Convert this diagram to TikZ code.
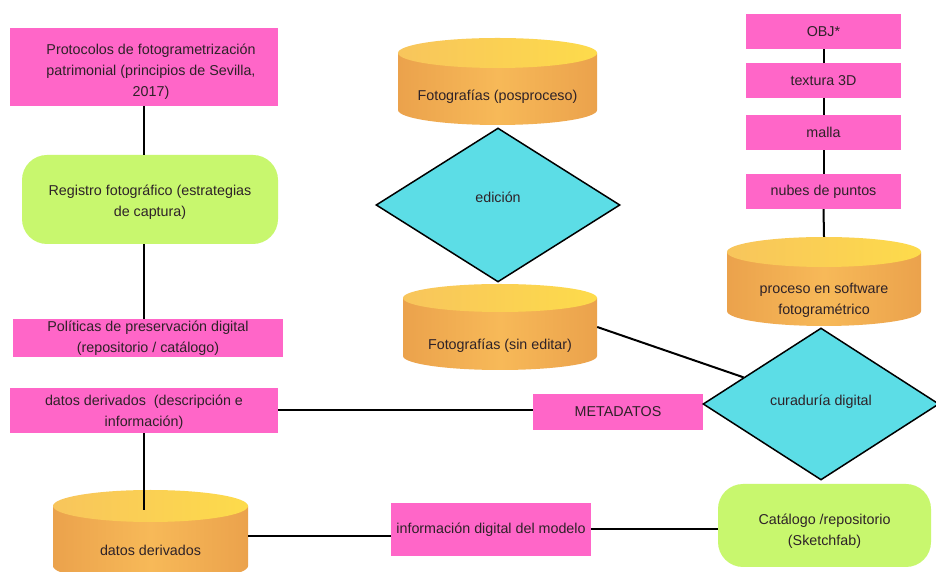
\documentclass[tikz,border=0pt]{standalone}
\usepackage{fontspec}
\setmainfont{Liberation Sans}
\usetikzlibrary{shapes.geometric}
\definecolor{pinkc}{HTML}{FF66C8}
\definecolor{limec}{HTML}{C8F76E}
\definecolor{cyanc}{HTML}{5CDDE6}
\definecolor{cylD}{HTML}{EBA24C}
\definecolor{cylL}{HTML}{F7B958}
\definecolor{topL}{HTML}{F8C55C}
\definecolor{topR}{HTML}{FDDB4B}
\definecolor{txtc}{HTML}{2E2228}
\tikzset{
  pbox/.style={fill=pinkc, inner sep=0pt, align=center},
  gbox/.style={fill=limec, rounded corners=25pt, inner sep=0pt, align=center},
  dia/.style={diamond, draw=black, line width=1.5pt, fill=cyanc, inner sep=0pt},
  conn/.style={line width=2pt, black},
  cylbody/.style={left color=cylD, right color=cylD, middle color=cylL},
  cyltop/.style={left color=topL, right color=topR},
  lbl/.style={align=center, inner sep=0pt}
}
\newcommand\dbcyl[8]{%
  \pgfmathsetmacro\cyT{572-#3}%
  \pgfmathsetmacro\cyB{572-#4}%
  \pgfmathsetmacro\cyM{(\cyT+\cyB)/2}%
  \shade[cylbody] (#2-#5,\cyT-#6) -- (#2-#5,\cyB+#6)
     arc[start angle=180,end angle=360,x radius=#5pt,y radius=#6pt]
     -- (#2+#5,\cyT-#6) -- cycle;
  \shade[cyltop] (#2,\cyT-#6) ellipse[x radius=#5pt,y radius=#6pt];
  \node[inner sep=0pt, minimum width=2*#5pt, minimum height=(#4-#3)*1pt] (#1) at (#2,\cyM) {};
  \node[lbl] at (#2,572-#7) {#8};
}
\begin{document}
\begin{tikzpicture}[x=1pt,y=1pt,font=\fontsize{14.3}{21}\selectfont,text=txtc]
\clip (0,0) rectangle (936,572);
\fill[white] (0,0) rectangle (936,572);

% left column
\node[pbox, minimum width=268pt, minimum height=78pt] (prot) at (144,505) {};
\node[lbl] at (151,500) {Protocolos de fotogrametrización\\patrimonial (principios de Sevilla,\\2017)};
\node[gbox, minimum width=256pt, minimum height=89pt] (reg) at (150,372.5) {};
\node[lbl] at (150,370) {Registro fotográfico (estrategias\\de captura)};
\node[pbox, minimum width=270pt, minimum height=38pt] (pol) at (148,234)
  {Políticas de preservación digital\\(repositorio / catálogo)};
\node[pbox, minimum width=268pt, minimum height=45pt] (dbox) at (144,161.5) {};
\node[lbl] at (144,160) {datos derivados\ \ (descripción e\\información)};
\dbcyl{dcyl}{150.5}{490}{582}{97.5}{16}{550}{datos derivados}
\coordinate (dcyltop) at (144,62);

% middle column
\dbcyl{pos}{497.5}{38}{125}{99.5}{15}{97}{Fotografías (posproceso)}
\node[dia, minimum width=244pt, minimum height=154pt] (edi) at (498,367) {};
\node[lbl] at (498,375) {edición};
\dbcyl{sin}{500}{284}{370}{97}{14}{346}{Fotografías (sin editar)}
\node[pbox, minimum width=170pt, minimum height=36pt] (meta) at (618,160) {METADATOS};
\node[pbox, minimum width=200pt, minimum height=53pt] (info) at (491,42.5)
  {información digital del modelo};

% right column
\node[pbox, minimum width=155pt, minimum height=35pt] (obj) at (823.5,540.5) {OBJ*};
\node[pbox, minimum width=155pt, minimum height=35pt] (tex) at (823.5,491.5) {textura 3D};
\node[pbox, minimum width=155pt, minimum height=35pt] (mal) at (823.5,439.5) {malla};
\node[pbox, minimum width=155pt, minimum height=35pt] (nub) at (823.5,380.5) {nubes de puntos};
\dbcyl{proc}{824}{237}{326}{97}{15}{300.5}{proceso en software\\fotogramétrico}
\node[dia, minimum width=236pt, minimum height=152pt] (cur) at (821,168) {};
\node[lbl] at (821,170) {curaduría digital};
\node[gbox, minimum width=213pt, minimum height=83pt] (cat) at (824.5,46.5) {};
\node[lbl] at (824.5,41) {Catálogo /repositorio\\(Sketchfab)};

% connectors
\draw[conn] (prot.south) -- (reg.north -| prot.south);
\draw[conn] (reg.south -| prot.south) -- (pol.north -| prot.south);
\draw[conn] (dbox.south) -- (dcyltop);
\draw[conn] (dbox.east) -- (dbox.east -| meta.west);
\draw[conn] (dcyl.east) -- (dcyl.east -| info.west);
\draw[conn] (info.east) -- (info.east -| cat.west);
\draw[conn] (sin.east) -- (cur);
\draw[conn] (obj.south) -- (tex.north);
\draw[conn] (tex.south) -- (mal.north);
\draw[conn] (mal.south) -- (nub.north);
\draw[conn] (nub.south) -- (proc.north);
\end{tikzpicture}
\end{document}
